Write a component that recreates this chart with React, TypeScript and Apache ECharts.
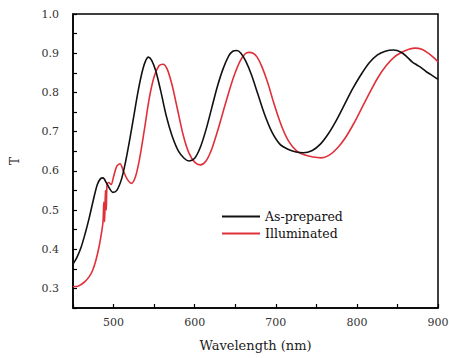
import React, { useEffect, useRef } from "react";
import * as echarts from "echarts";

const preparedWavelength = [450, 455, 460, 465, 470, 475, 480, 484, 487, 491, 495, 499, 504, 510, 515, 520, 525, 530, 535, 539, 543, 547, 552, 558, 565, 572, 580, 587, 593, 600, 607, 614, 621, 628, 635, 642, 647, 652, 657, 663, 670, 678, 686, 695, 705, 715, 725, 734, 745, 755, 765, 775, 785, 795, 805, 815, 825, 835, 845, 855, 862, 868, 874, 880, 886, 893, 900];
const preparedT = [0.362, 0.38, 0.405, 0.44, 0.48, 0.525, 0.565, 0.58, 0.582, 0.57, 0.555, 0.545, 0.55, 0.58, 0.625, 0.68, 0.74, 0.8, 0.85, 0.878, 0.89, 0.882, 0.855, 0.805, 0.74, 0.69, 0.65, 0.632, 0.625, 0.632, 0.66, 0.705, 0.76, 0.815, 0.86, 0.893, 0.905, 0.907, 0.9, 0.88, 0.845, 0.795, 0.745, 0.7, 0.668, 0.655, 0.648, 0.646, 0.652, 0.668, 0.695, 0.73, 0.77, 0.81, 0.845, 0.875, 0.895, 0.905, 0.908, 0.902, 0.89, 0.878, 0.87, 0.862, 0.852, 0.843, 0.833];

const illuminatedWavelength = [450, 455, 460, 465, 470, 474, 478, 482, 485, 487, 488, 489, 490, 491, 492, 494, 497, 500, 504, 508, 512, 517, 522, 527, 532, 538, 544, 550, 556, 561, 566, 572, 579, 586, 593, 600, 607, 614, 621, 628, 635, 642, 649, 656, 662, 667, 672, 677, 683, 690, 698, 707, 716, 726, 736, 746, 756, 766, 776, 786, 796, 806, 816, 826, 836, 846, 856, 864, 872, 880, 888, 894, 900];
const illuminatedT = [0.305, 0.305, 0.31, 0.318, 0.33, 0.345, 0.37, 0.405, 0.44, 0.47, 0.52, 0.47, 0.55, 0.5, 0.565, 0.57, 0.565, 0.585, 0.612, 0.618, 0.6, 0.578, 0.568, 0.585, 0.63, 0.705, 0.785, 0.84, 0.868, 0.872, 0.86, 0.82, 0.755, 0.69, 0.645, 0.622, 0.615, 0.625, 0.655, 0.7, 0.75, 0.8, 0.845, 0.88, 0.898, 0.902, 0.9, 0.89, 0.865, 0.825, 0.77, 0.715, 0.675, 0.65, 0.64, 0.635, 0.633, 0.64, 0.658, 0.685, 0.72, 0.76, 0.8, 0.838, 0.868, 0.89, 0.903, 0.91, 0.913, 0.91, 0.9, 0.89, 0.878];

const xMin = 450;
const xMax = 900;
const yMin = 0.25;
const yMax = 1.0;

const seriesNames = ["As-prepared", "Illuminated"];
const seriesColors = ["#111111", "#e0303a"];

function pairs(xs: number[], ys: number[]) {
  return xs.map((x, i) => [x, ys[i]]);
}

export default function App() {
  const ref = useRef<HTMLDivElement>(null);
  useEffect(() => {
    if (!ref.current) return;
    const chart = echarts.init(ref.current, undefined, { renderer: "svg" });
    const font = "DejaVu Serif";
    chart.setOption({
      animation: false,
      backgroundColor: "#ffffff",
      textStyle: { fontFamily: font },
      grid: {
        left: 73,
        right: 11,
        top: 14,
        bottom: 50,
        containLabel: false,
        outerBoundsMode: "none",
        show: true,
        borderColor: "#000",
        borderWidth: 1.5,
        backgroundColor: "transparent",
      },
      legend: {
        orient: "vertical",
        left: 217,
        top: 205,
        itemWidth: 38,
        itemHeight: 2,
        itemGap: 4,
        icon: "rect",
        textStyle: { fontFamily: font, fontSize: 12.5, color: "#111", padding: [0, 0, 0, 0] },
        data: seriesNames,
      },
      xAxis: {
        type: "value",
        min: xMin,
        max: xMax,
        interval: 50,
        name: "Wavelength (nm)",
        nameLocation: "middle",
        nameGap: 31,
        nameTextStyle: { fontFamily: font, fontSize: 13, color: "#222" },
        axisLine: { show: true, lineStyle: { color: "#000", width: 1.5 } },
        axisTick: { show: true, inside: true, length: 4, lineStyle: { color: "#000", width: 1.2 } },
        splitLine: { show: false },
        axisLabel: {
          fontFamily: font,
          fontSize: 11,
          color: "#333",
          margin: 9,
          formatter: (v: number) => (v % 100 === 0 ? String(v) : ""),
        },
      },
      yAxis: {
        type: "value",
        min: yMin,
        max: yMax,
        interval: 0.05,
        name: "T",
        nameLocation: "middle",
        nameRotate: 90,
        nameGap: 52,
        nameTextStyle: { fontFamily: font, fontSize: 12, color: "#222" },
        axisLine: { show: true, lineStyle: { color: "#000", width: 1.5 } },
        axisTick: { show: true, inside: true, length: 4, lineStyle: { color: "#000", width: 1.2 } },
        splitLine: { show: false },
        axisLabel: {
          fontFamily: font,
          fontSize: 11,
          color: "#333",
          margin: 14,
          formatter: (v: number) => {
            const r = Math.round(v * 100);
            return r % 10 === 0 && r >= 30 ? (r / 100).toFixed(1) : "";
          },
        },
      },
      series: [
        {
          name: seriesNames[0],
          type: "line",
          data: pairs(preparedWavelength, preparedT),
          smooth: 0.3,
          showSymbol: false,
          lineStyle: { color: seriesColors[0], width: 1.6 },
          itemStyle: { color: seriesColors[0] },
          z: 3,
        },
        {
          name: seriesNames[1],
          type: "line",
          data: pairs(illuminatedWavelength, illuminatedT),
          smooth: 0.3,
          showSymbol: false,
          lineStyle: { color: seriesColors[1], width: 1.6 },
          itemStyle: { color: seriesColors[1] },
          z: 2,
        },
      ],
    });
    return () => chart.dispose();
  }, []);
  return <div ref={ref} style={{ width: 449, height: 358, position: "absolute", left: 0, top: 0 }} />;
}
